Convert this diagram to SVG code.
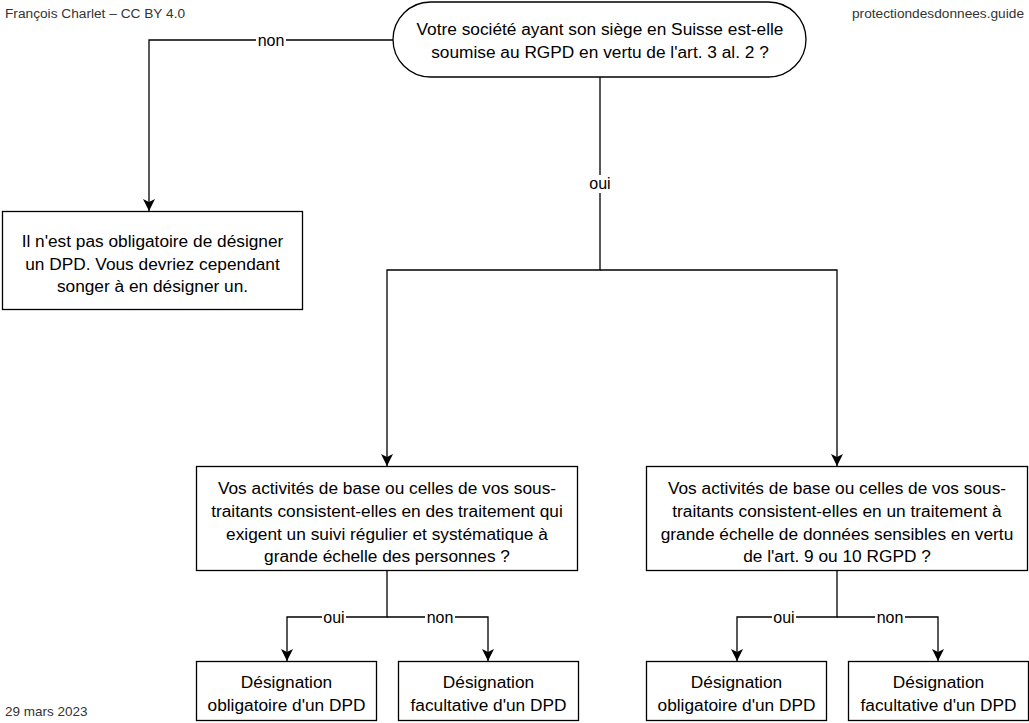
<svg xmlns="http://www.w3.org/2000/svg" width="1029" height="723" viewBox="0 0 1029 723">
<style>
.node{fill:#fff;stroke:#000;stroke-width:1.3}
.t{font-family:"Liberation Sans",Arial,sans-serif;font-size:17.3px;fill:#000;text-anchor:middle}
.lbl{font-family:"Liberation Sans",Arial,sans-serif;font-size:16px;fill:#000;text-anchor:middle}
.meta{font-family:"Liberation Sans",Arial,sans-serif;font-size:13.7px;fill:#333}
.edge{fill:none;stroke:#000;stroke-width:1.3}
.lblbg{fill:#fff}
</style>
<defs>
<marker id="arr" markerUnits="userSpaceOnUse" markerWidth="12" markerHeight="12" viewBox="0 0 10 10" refX="10" refY="5" orient="auto">
<path d="M0,0 L10,5 L0,10 L2.5,5 Z" fill="#000"/>
</marker>
</defs>
<g id="meta">
<text class="meta" x="5" y="18">François Charlet – CC BY 4.0</text>
<text class="meta" x="1024" y="18" text-anchor="end">protectiondesdonnees.guide</text>
<text class="meta" x="5" y="716" style="font-size:13.5px">29 mars 2023</text>
</g>
<g id="connectors">
<path class="edge" d="M393,40 H149 V211" marker-end="url(#arr)"/>
<path class="edge" d="M600,77 V270 H387 V466" marker-end="url(#arr)"/>
<path class="edge" d="M600,270 H837 V466" marker-end="url(#arr)"/>
<path class="edge" d="M387,571 V617 H287 V661" marker-end="url(#arr)"/>
<path class="edge" d="M387,617 H488 V661" marker-end="url(#arr)"/>
<path class="edge" d="M837,571 V617 H737 V661" marker-end="url(#arr)"/>
<path class="edge" d="M837,617 H938 V661" marker-end="url(#arr)"/>
<rect class="lblbg" x="256" y="31" width="30" height="18"/>
<text class="lbl" x="271" y="45.5">non</text>
<rect class="lblbg" x="588" y="175" width="24" height="18"/>
<text class="lbl" x="600" y="189">oui</text>
<rect class="lblbg" x="322" y="608" width="24" height="18"/>
<text class="lbl" x="334" y="622.5">oui</text>
<rect class="lblbg" x="425" y="608" width="30" height="18"/>
<text class="lbl" x="440" y="622.5">non</text>
<rect class="lblbg" x="772" y="608" width="24" height="18"/>
<text class="lbl" x="784" y="622.5">oui</text>
<rect class="lblbg" x="875" y="608" width="30" height="18"/>
<text class="lbl" x="890" y="622.5">non</text>
</g>
<g id="q1">
<rect class="node" x="393" y="2" width="413" height="75" rx="37.5" ry="37.5"/>
<text class="t" x="600" y="35.3">Votre société ayant son siège en Suisse est-elle</text>
<text class="t" x="600" y="58.3">soumise au RGPD en vertu de l'art. 3 al. 2 ?</text>
</g>
<g id="no-dpd">
<rect class="node" x="2.5" y="211.5" width="300" height="98"/>
<text class="t" x="152.5" y="246.7">Il n'est pas obligatoire de désigner</text>
<text class="t" x="152.5" y="269.6">un DPD. Vous devriez cependant</text>
<text class="t" x="152.5" y="292.4">songer à en désigner un.</text>
</g>
<g id="q2">
<rect class="node" x="196.5" y="466.5" width="381" height="104"/>
<text class="t" x="387" y="494.3">Vos activités de base ou celles de vos sous-</text>
<text class="t" x="387" y="517">traitants consistent-elles en des traitement qui</text>
<text class="t" x="387" y="539.7">exigent un suivi régulier et systématique à</text>
<text class="t" x="387" y="562.4">grande échelle des personnes ?</text>
</g>
<g id="q3">
<rect class="node" x="646.5" y="466.5" width="381" height="104"/>
<text class="t" x="837" y="494.3">Vos activités de base ou celles de vos sous-</text>
<text class="t" x="837" y="517">traitants consistent-elles en un traitement à</text>
<text class="t" x="837" y="539.7">grande échelle de données sensibles en vertu</text>
<text class="t" x="837" y="562.4">de l'art. 9 ou 10 RGPD ?</text>
</g>
<g id="r1">
<rect class="node" x="196.5" y="661.5" width="180" height="59"/>
<text class="t" x="286.5" y="688">Désignation</text>
<text class="t" x="286.5" y="711">obligatoire d'un DPD</text>
</g>
<g id="r2">
<rect class="node" x="398.5" y="661.5" width="180" height="59"/>
<text class="t" x="488.5" y="688">Désignation</text>
<text class="t" x="488.5" y="711">facultative d'un DPD</text>
</g>
<g id="r3">
<rect class="node" x="646.5" y="661.5" width="180" height="59"/>
<text class="t" x="736.5" y="688">Désignation</text>
<text class="t" x="736.5" y="711">obligatoire d'un DPD</text>
</g>
<g id="r4">
<rect class="node" x="848.5" y="661.5" width="180" height="59"/>
<text class="t" x="938.5" y="688">Désignation</text>
<text class="t" x="938.5" y="711">facultative d'un DPD</text>
</g>
</svg>
